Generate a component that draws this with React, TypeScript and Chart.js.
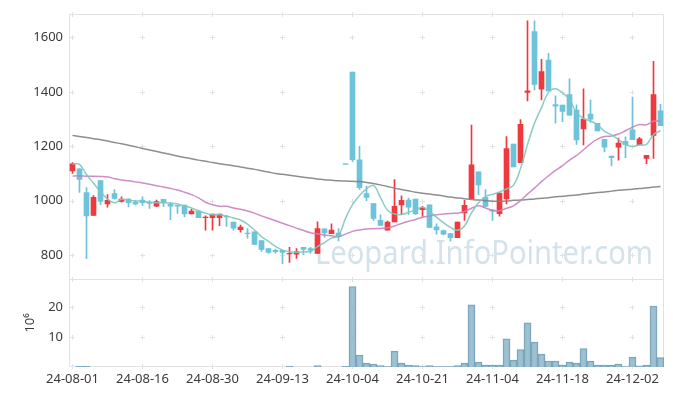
import React, { useEffect, useRef } from 'react';
import { Chart, registerables } from 'chart.js';

Chart.register(...registerables);

const dates = [
  '24-08-01','24-08-02','24-08-05','24-08-06','24-08-07','24-08-08','24-08-09','24-08-12','24-08-13','24-08-14',
  '24-08-16','24-08-19','24-08-20','24-08-21','24-08-22','24-08-23','24-08-26','24-08-27','24-08-28','24-08-29',
  '24-08-30','24-09-02','24-09-03','24-09-04','24-09-05','24-09-06','24-09-09','24-09-10','24-09-11','24-09-12',
  '24-09-13','24-09-19','24-09-20','24-09-23','24-09-24','24-09-25','24-09-26','24-09-27','24-09-30','24-10-02',
  '24-10-04','24-10-07','24-10-08','24-10-10','24-10-11','24-10-14','24-10-15','24-10-16','24-10-17','24-10-18',
  '24-10-21','24-10-22','24-10-23','24-10-24','24-10-25','24-10-28','24-10-29','24-10-30','24-10-31','24-11-01',
  '24-11-04','24-11-05','24-11-06','24-11-07','24-11-08','24-11-11','24-11-12','24-11-13','24-11-14','24-11-15',
  '24-11-18','24-11-19','24-11-20','24-11-21','24-11-22','24-11-25','24-11-26','24-11-27','24-11-28','24-11-29',
  '24-12-02','24-12-03','24-12-04','24-12-05','24-12-06'
];

const opens = [
  1109,1117,1030,946,1074,988,1026,997,1006,995,
  1002,995,980,1005,986,983,984,951,962,937,
  937,937,942,921,893,881,885,853,824,817,
  817,804,803,828,824,806,896,879,881,1135,
  1473,1150,1026,989,928,891,922,984,1002,1006,
  967,985,904,890,879,864,955,1007,1106,1012,
  966,952,1006,1208,1140,1398,1622,1410,1517,1353,
  1351,1390,1333,1264,1318,1284,1225,1164,1197,1218,
  1260,1205,1155,1240,1330
];
const highs = [
  1140,1118,1048,1019,1074,1022,1041,1014,1008,1000,
  1014,1000,1002,1005,993,983,984,968,965,944,
  951,951,946,921,910,897,885,853,824,822,
  817,828,824,828,828,922,896,915,897,1135,
  1473,1200,1054,989,948,925,1077,1018,1009,1006,
  979,985,915,892,879,921,1001,1278,1106,1041,
  966,1028,1236,1208,1298,1661,1661,1520,1542,1385,
  1351,1448,1352,1411,1370,1284,1225,1164,1230,1235,
  1381,1233,1167,1512,1354
];
const lows = [
  1100,1030,787,946,985,976,1005,994,977,984,
  982,971,978,978,930,953,940,951,937,891,
  891,908,905,891,884,862,839,813,806,806,
  768,773,788,801,806,806,865,879,852,1133,
  1143,1041,1000,927,909,891,922,948,949,949,
  942,901,877,875,851,864,927,1007,1022,979,
  927,943,988,1124,1140,1367,1407,1370,1403,1285,
  1290,1314,1207,1205,1288,1256,1179,1128,1149,1158,
  1224,1205,1136,1155,1276
];
const closes = [
  1135,1078,944,1012,997,1001,1008,1006,993,988,
  993,990,997,993,980,980,951,962,937,940,
  951,951,940,899,903,879,839,821,810,812,
  810,806,812,821,817,897,881,892,869,1133,
  1151,1048,1012,935,909,921,979,1001,976,951,
  973,902,892,877,864,921,983,1132,1058,979,
  961,1028,1191,1124,1281,1404,1427,1475,1403,1347,
  1328,1314,1223,1300,1300,1256,1197,1158,1212,1206,
  1224,1227,1167,1390,1276
];

// volume in millions
const volumes = [
  0,0.2,0.2,0,0,0,0,0,0,0,
  0,0,0,0,0,0,0,0,0,0,
  0,0,0,0,0,0,0,0,0,0,
  0,0.2,0,0,0,0.5,0,0,0,0.2,
  26.8,4.0,1.3,1.0,0.45,0.1,5.3,1.3,0.6,0.45,
  0.1,0.45,0.15,0.15,0.15,0.45,1.3,20.7,1.6,0.6,
  0.6,0.6,9.4,2.3,5.8,14.7,8.3,4.3,2.0,2.0,
  0.6,1.6,1.3,6.1,2.0,0.6,0.6,0.6,1.0,0.15,
  3.3,0.4,0.6,20.3,3.1
];

const ma5 = [
  1135,1133,1096,1064,1033,1006,992,1005,1001,999,
  998,994,992,992,991,988,980,973,962,954,
  948,948,944,936,929,914,892,868,850,832,
  818,812,810,812,813,831,846,862,871,935,
  985,1019,1043,1056,1011,965,951,949,957,966,
  976,961,939,919,902,891,907,955,992,1015,
  1023,1032,1043,1057,1117,1206,1285,1342,1398,1411,
  1396,1373,1323,1302,1293,1279,1255,1242,1225,1206,
  1199,1205,1207,1243,1257
];
const ma20 = [
  1091,1091,1090,1090,1089,1087,1081,1076,1073,1069,
  1065,1060,1055,1050,1045,1039,1031,1022,1010,994,
  985,979,979,973,968,962,954,944,935,926,
  917,908,899,890,882,878,874,871,868,877,
  887,892,896,897,898,900,907,916,924,931,
  939,944,948,951,953,954,960,972,981,973,
  964,963,972,981,1000,1024,1046,1070,1091,1111,
  1129,1149,1166,1187,1209,1226,1236,1238,1245,1257,
  1270,1280,1279,1292,1292
];
const maLong = [
  1240,1236,1232,1228,1224,1219,1214,1209,1204,1198,
  1192,1186,1181,1175,1170,1164,1159,1154,1149,1145,
  1140,1136,1132,1128,1124,1119,1115,1110,1105,1100,
  1097,1093,1090,1086,1083,1080,1077,1075,1073,1072,
  1071,1070,1067,1063,1058,1052,1046,1041,1036,1031,
  1027,1024,1021,1017,1013,1010,1007,1004,1002,1000,
  998,998,999,1001,1002,1004,1006,1009,1011,1014,
  1016,1019,1021,1024,1027,1030,1032,1035,1038,1040,
  1042,1045,1047,1050,1052
];

const priceTicks = [800, 1000, 1200, 1400, 1600];
const volumeTicks = [10, 20];
const xTickEvery = 10;

const UP = '#ee3a3f';
const DOWN = '#6cc3da';
const GRID = '#e2e2e2';
const TEXT = '#3a3a3a';
const FONT = '"Noto Sans", "DejaVu Sans", sans-serif';

const overlayPlugin = {
  id: 'overlay',
  beforeDatasetsDraw(chart: any) {
    const { ctx, chartArea: a, scales } = chart;
    const xs = scales.x, ys = scales.y, yv = scales.yv;
    ctx.save();

    // watermark
    const wm = 'Leopard.InfoPointer.com';
    ctx.font = `33px ${FONT}`;
    const w = ctx.measureText(wm).width;
    const target = 338;
    ctx.fillStyle = 'rgba(175,202,218,0.55)';
    ctx.textBaseline = 'alphabetic';
    ctx.save();
    ctx.translate(a.right - 11 - target, ys.bottom - 15);
    ctx.scale(target / w, 1);
    ctx.fillText(wm, 0, 0);
    ctx.restore();

    // grid crosses
    ctx.strokeStyle = GRID;
    ctx.lineWidth = 1;
    const ypos: number[] = [];
    priceTicks.forEach((v) => ypos.push(Math.round(ys.getPixelForValue(v)) + 0.5));
    volumeTicks.forEach((v) => ypos.push(Math.round(yv.getPixelForValue(v)) + 0.5));
    ypos.push(Math.round(a.top) + 0.5, Math.round(ys.bottom) + 0.5, Math.round(a.bottom) - 0.5);
    ctx.beginPath();
    for (let i = 0; i < dates.length; i += xTickEvery) {
      const px = Math.floor(xs.getPixelForValue(i)) + 0.5;
      ypos.forEach((py) => {
        ctx.moveTo(px - 2.5, py);
        ctx.lineTo(px + 2.5, py);
        ctx.moveTo(px, py - 2.5);
        ctx.lineTo(px, py + 2.5);
      });
    }
    ctx.stroke();

    // panel borders
    ctx.beginPath();
    ctx.rect(Math.round(a.left) + 0.5, Math.round(a.top) + 0.5, Math.round(a.right - a.left) - 1, Math.round(a.bottom - a.top) - 1);
    const sep = Math.round(ys.bottom) + 0.5;
    ctx.moveTo(a.left, sep);
    ctx.lineTo(a.right, sep);
    ctx.stroke();
    ctx.restore();
  },
};

export default function App() {
  const ref = useRef<HTMLCanvasElement>(null);

  useEffect(() => {
    document.body.style.margin = '0';
    const candleColors = opens.map((o, i) => (closes[i] >= o ? UP : DOWN));
    const chart = new Chart(ref.current as HTMLCanvasElement, {
      type: 'bar',
      data: {
        labels: dates,
        datasets: [
          {
            type: 'line',
            label: 'MA5',
            data: ma5,
            yAxisID: 'y',
            borderColor: 'rgba(125,200,188,0.9)',
            borderWidth: 1.5,
            pointRadius: 0,
            tension: 0.4,
            order: 0,
          },
          {
            type: 'line',
            label: 'MA20',
            data: ma20,
            yAxisID: 'y',
            borderColor: 'rgba(200,130,192,0.9)',
            borderWidth: 1.5,
            pointRadius: 0,
            tension: 0.4,
            order: 0,
          },
          {
            type: 'line',
            label: 'MA long',
            data: maLong,
            yAxisID: 'y',
            borderColor: 'rgba(130,130,130,0.9)',
            borderWidth: 1.5,
            pointRadius: 0,
            tension: 0.4,
            order: 0,
          },
          {
            type: 'bar',
            label: 'body',
            data: opens.map((o, i) => [Math.min(o, closes[i]), Math.max(o, closes[i])]) as any,
            yAxisID: 'y',
            backgroundColor: candleColors,
            borderWidth: 0,
            barThickness: 5,
            grouped: false,
            order: 1,
          },
          {
            type: 'bar',
            label: 'wick',
            data: lows.map((l, i) => [l, highs[i]]) as any,
            yAxisID: 'y',
            backgroundColor: candleColors,
            borderWidth: 0,
            barThickness: 1,
            grouped: false,
            order: 2,
          },
          {
            type: 'bar',
            label: 'volume',
            data: volumes,
            yAxisID: 'yv',
            backgroundColor: 'rgba(140,182,202,0.85)',
            borderColor: 'rgba(105,150,175,0.9)',
            borderWidth: 1,
            barPercentage: 1,
            categoryPercentage: 1,
            grouped: false,
            order: 3,
          },
        ],
      },
      options: {
        responsive: false,
        animation: false,
        layout: { padding: { top: 10, right: 9, bottom: 0, left: 0 } },
        plugins: { legend: { display: false }, tooltip: { enabled: false } },
        scales: {
          x: {
            type: 'category',
            offset: true,
            grid: { display: false, drawTicks: false },
            border: { display: false },
            ticks: {
              autoSkip: false,
              maxRotation: 0,
              padding: 4,
              color: TEXT,
              font: { size: 13, family: FONT },
              callback: (_v: any, i: number) => (i % xTickEvery === 0 ? dates[i] : ''),
            },
            afterFit: (s: any) => { s.height = 29; },
          },
          yv: {
            position: 'left',
            stack: 'main',
            stackWeight: 1,
            min: 0,
            max: 29.4,
            grid: { display: false, drawTicks: false },
            border: { display: false },
            ticks: { padding: 6, color: TEXT, font: { size: 13, family: FONT }, callback: (v: any) => String(v) },
            title: { display: true, text: '10⁶', color: TEXT, font: { size: 13, family: FONT }, padding: { top: 22, bottom: 0 } },
            afterBuildTicks: (s: any) => { s.ticks = volumeTicks.map((v) => ({ value: v })); },
            afterFit: (s: any) => { s.width = 69; },
          },
          y: {
            position: 'left',
            stack: 'main',
            stackWeight: 3,
            min: 713,
            max: 1687,
            grid: { display: false, drawTicks: false },
            border: { display: false },
            ticks: { padding: 6, color: TEXT, font: { size: 13, family: FONT }, callback: (v: any) => String(v) },
            afterBuildTicks: (s: any) => { s.ticks = priceTicks.map((v) => ({ value: v })); },
            afterFit: (s: any) => { s.width = 69; },
          },
        },
      } as any,
      plugins: [overlayPlugin],
    } as any);
    return () => chart.destroy();
  }, []);

  return (
    <div style={{ width: 673, height: 396 }}>
      <canvas ref={ref} width={673} height={396} style={{ display: 'block' }} />
    </div>
  );
}
